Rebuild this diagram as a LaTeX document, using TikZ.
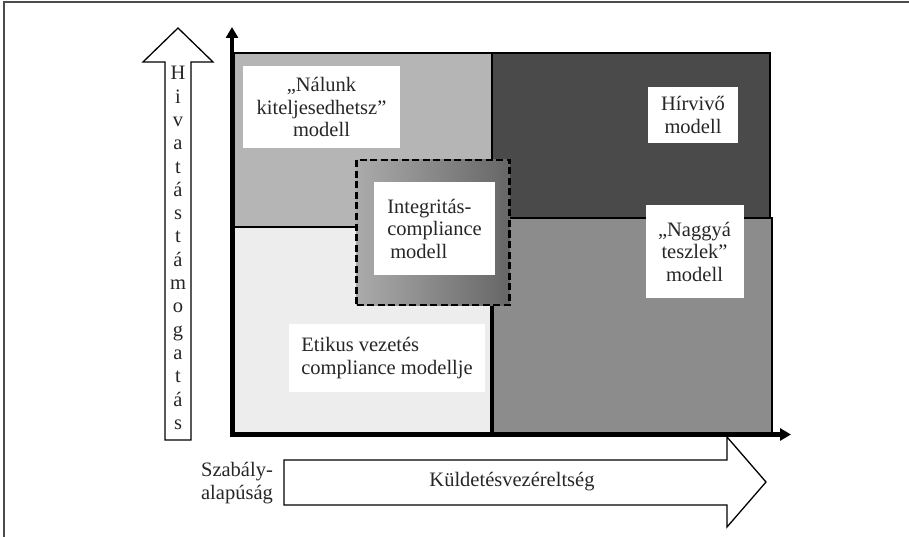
\documentclass[tikz,border=0pt]{standalone}
\usepackage{fontspec}
\setmainfont{Liberation Serif}
\usetikzlibrary{arrows.meta}
\begin{document}
\begin{tikzpicture}[x=1pt,y=-1pt,
  quad/.style={draw=black,line width=1.2pt},
  lbl/.style={fill=white,inner sep=0pt,align=center,font=\fontsize{20.5}{22.5}\selectfont,text=black!85},
  txt/.style={inner sep=0pt,font=\fontsize{20.5}{22.5}\selectfont,text=black!85},
  axisline/.style={line width=4.5pt,line join=miter,{Triangle[length=11pt,width=12pt]}-{Triangle[length=11pt,width=12pt]}},
  outl/.style={draw=black,line width=1.3pt,fill=white,line join=miter},
  dbox/.style={draw=black,line width=2.4pt,dash pattern=on 7pt off 3.5pt,left color=black!33,right color=black!60,inner sep=0pt}]
\useasboundingbox (0,0) rectangle (909,537);
\draw[line width=1.5pt,draw=black!70] (4,537) -- (4,2) -- (909,2);

% quadrants
\filldraw[quad,fill=black!7] (234,227) rectangle (492,433);
\filldraw[quad,fill=black!29] (234,53) rectangle (492,227);
\filldraw[quad,fill=black!71] (492,53) rectangle (770,218);
\filldraw[quad,fill=black!45] (492,218) rectangle (772,433);
\draw[line width=4pt] (492,300) -- (492,433);

% central dashed area
\node[dbox,minimum width=153,minimum height=145] (dash) at (433,232.5) {};

% labels
\node[lbl,minimum width=157,minimum height=82] (nal) at (321.5,107) {„Nálunk\\kiteljesedhetsz”\\modell};
\node[lbl,minimum width=90,minimum height=56] (hir) at (693,115) {Hírvivő\\modell};
\node[lbl,align=left,minimum width=121,minimum height=93] (int) at (434.5,228.5) {Integritás-\\compliance\\\hspace{3pt}modell};
\node[lbl,minimum width=98,minimum height=93] (nagy) at (694.5,251.5) {„Naggyá\\teszlek”\\modell};
\node[lbl,align=left,minimum width=196,minimum height=68] (etik) at (387,358) {Etikus vezetés\\compliance modellje};

% axes
\coordinate (O) at (232,434.5);
\coordinate (Ytip) at (232,27);
\coordinate (Xtip) at (791,434.5);
\draw[axisline] (Ytip) -- (O) -- (Xtip);

% vertical outline arrow
\draw[outl] (165,440) -- (165,62) -- (143,62) -- (178,28) -- (213,62) -- (191,62) -- (191,440) -- cycle;
\node[txt,align=center,font=\fontsize{20.5}{23.3}\selectfont] (hiv) at (178,248) {H\\i\\v\\a\\t\\á\\s\\t\\á\\m\\o\\g\\a\\t\\á\\s};

% horizontal outline arrow
\draw[outl] (284,460) -- (727,460) -- (727,437) -- (766,482) -- (727,527) -- (727,505) -- (284,505) -- cycle;
\node[txt] (kul) at (512,482) {Küldetésvezéreltség};
\node[txt,align=left] (szab) at (237,483) {Szabály-\\alapúság};
\end{tikzpicture}
\end{document}
